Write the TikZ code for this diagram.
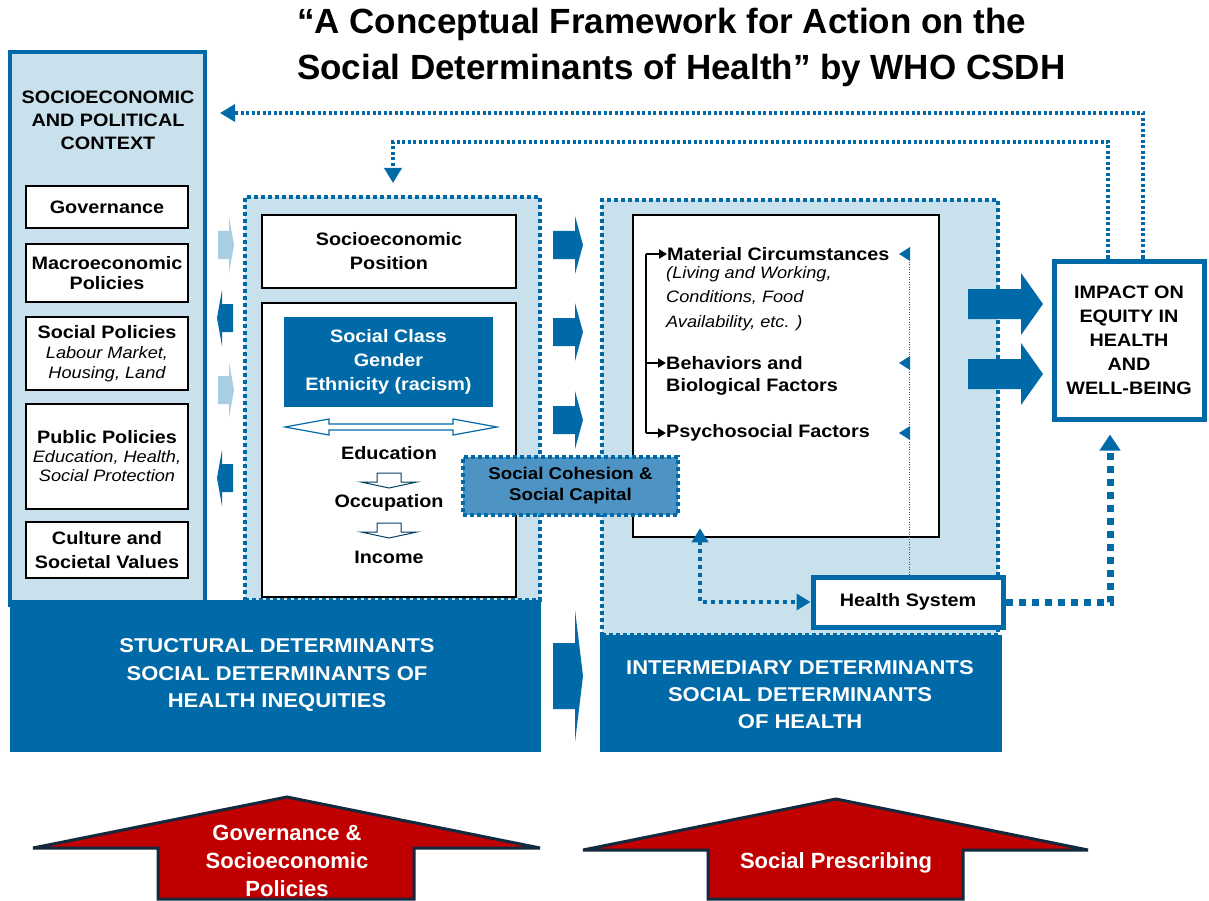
\documentclass[tikz,border=0pt]{standalone}
\usepackage{fontspec}
\setmainfont[FakeStretch=1.1]{Liberation Sans}
\newfontfamily\titlefont{Liberation Sans}
\usetikzlibrary{arrows.meta}
\definecolor{dblue}{HTML}{006AA8}
\definecolor{lblue}{HTML}{C9E1ED}
\definecolor{mblue}{HTML}{4D94C4}
\definecolor{pblue}{HTML}{A9CDE3}
\definecolor{redfill}{HTML}{C00000}
\definecolor{navy}{HTML}{13293D}
\newcommand{\setfs}[2]{\fontsize{#1}{#2}\selectfont}
\newcommand{\myital}[1]{{\fontsize{16.5}{19}\selectfont\mdseries\itshape #1}}
% right block arrow: x0, xhead, xtip, cy, body half, head half
\newcommand{\rblock}[7]{\fill[#7] (#1,{#4-#5}) -- (#2,{#4-#5}) -- (#2,{#4-#6}) -- (#3,#4) -- (#2,{#4+#6}) -- (#2,{#4+#5}) -- (#1,{#4+#5}) -- cycle;}
\begin{document}
\begin{tikzpicture}[x=1pt,y=-1pt,
  every node/.style={inner sep=0pt},
  font=\setfs{18}{20}\bfseries,
  wbox/.style={draw=black, line width=2.5pt, fill=white, align=center},
  dotbox/.style={draw=dblue, line width=4pt, dash pattern=on 4pt off 3pt, fill=lblue},
  darkbox/.style={fill=dblue, text=white, align=center},
  bluebox/.style={draw=dblue, line width=5pt, fill=white, align=center},
  thindot/.style={draw=dblue, line width=3.5pt, dash pattern=on 3pt off 2.5pt},
  meddot/.style={draw=dblue, line width=4pt, dash pattern=on 4pt off 4pt},
  bigdot/.style={draw=dblue, line width=7pt, dash pattern=on 7pt off 6pt},
  bhead/.style={-{Triangle[length=15pt,width=17pt]}},
  redarrow/.style={fill=redfill, draw=navy, line width=3pt, line join=miter},
  redtext/.style={text=white, align=center, font=\titlefont\setfs{22}{28}\bfseries}
]
\useasboundingbox (0,0) rectangle (1209,901);
\fill[white] (0,0) rectangle (1209,901);

% title
\node[anchor=base west, font=\titlefont\setfs{35}{46}\bfseries] (title1) at (297,34) {“A Conceptual Framework for Action on the};
\node[anchor=base west, font=\titlefont\setfs{35}{46}\bfseries] (title2) at (297,80) {Social Determinants of Health” by WHO CSDH};

% context column
\node[draw=dblue, line width=4pt, fill=lblue, minimum width=195pt, minimum height=553pt] (ctx) at (107.5,328.5) {};
\node[align=center, font=\setfs{18}{23}\bfseries] (ctxt) at (108,120) {SOCIOECONOMIC\\AND POLITICAL\\CONTEXT};
\node[wbox, minimum width=162pt, minimum height=42pt] (gov) at (107,207) {Governance};
\node[wbox, minimum width=162pt, minimum height=58pt] (macro) at (107,273) {Macroeconomic\\Policies};
\node[wbox, minimum width=162pt, minimum height=73pt] (socpol) at (107,353.5) {Social Policies\\\myital{Labour Market,}\\\myital{Housing, Land}};
\node[wbox, minimum width=162pt, minimum height=105pt, font=\setfs{18}{19}\bfseries] (pubpol) at (107,456.5) {Public Policies\\\myital{Education, Health,}\\\myital{Social Protection}};
\node[wbox, minimum width=162pt, minimum height=56pt, font=\setfs{18}{24}\bfseries] (cult) at (107,550) {Culture and\\Societal Values};

% small arrows between context and structural
\fill[pblue] (218,231) -- (229,231) -- (229,217) -- (234,245) -- (229,273) -- (229,259) -- (218,259) -- cycle;
\fill[pblue] (218,376) -- (229,376) -- (229,362) -- (234,390) -- (229,418) -- (229,404) -- (218,404) -- cycle;
\fill[dblue] (233,304) -- (222,304) -- (222,290) -- (217,318) -- (222,346) -- (222,332) -- (233,332) -- cycle;
\fill[dblue] (233,464) -- (222,464) -- (222,450) -- (217,478) -- (222,506) -- (222,492) -- (233,492) -- cycle;

% structural determinants
\node[dotbox, minimum width=295pt, minimum height=403pt] (struct) at (392.5,398.5) {};
\node[wbox, minimum width=254pt, minimum height=73pt, font=\setfs{18}{24}\bfseries] (sep) at (389,251.5) {Socioeconomic\\Position};
\node[wbox, minimum width=254pt, minimum height=294pt] (sbig) at (389,450) {};
\node[darkbox, minimum width=209pt, minimum height=90pt, font=\setfs{18}{24}\bfseries] (scg) at (388.5,362) {Social Class\\Gender\\Ethnicity (racism)};
\draw[fill=white, draw=dblue, line width=1.2pt, line join=miter] (285,427) -- (329,419) -- (329,424) -- (453,424) -- (453,419) -- (497,427) -- (453,435) -- (453,430) -- (329,430) -- (329,435) -- cycle;
\node (edu) at (389,453) {Education};
\node (occ) at (389,503) {Occupation};
\node (inc) at (389,557) {Income};
\draw[fill=white, draw=dblue!60!black, line width=1pt] (377,473) -- (401,473) -- (401,482) -- (417,482) -- (389,488) -- (361,482) -- (377,482) -- cycle;
\draw[fill=white, draw=dblue!60!black, line width=1pt] (377,523) -- (401,523) -- (401,532) -- (417,532) -- (389,538) -- (361,532) -- (377,532) -- cycle;

% intermediary determinants
\node[dotbox, minimum width=396pt, minimum height=435pt] (inter) at (800,417.5) {};
\node[wbox, minimum width=306pt, minimum height=322pt] (iw) at (786,376) {};
\node[anchor=west] (mc) at (667,254) {Material Circumstances};
\node[anchor=north west, align=left, font=\setfs{16.5}{24.5}\mdseries\itshape] (mcx) at (666,266) {(Living and Working,\\Conditions, Food\\Availability, etc. )};
\node[anchor=west] (bb) at (666,363) {Behaviors and};
\node[anchor=west] (bb2) at (666,387) {Biological Factors};
\node[anchor=west] (ps) at (666,433) {Psychosocial Factors};
\coordinate (brk) at (646,0);
\draw[line width=2pt] (mc.west -| brk) -- (ps.west -| brk);
\draw[line width=2pt, -{Triangle[length=8pt,width=9pt]}] (mc.west -| brk) -- (mc.west);
\draw[line width=2pt, -{Triangle[length=8pt,width=9pt]}] (bb.west -| brk) -- (bb.west);
\draw[line width=2pt, -{Triangle[length=8pt,width=9pt]}] (ps.west -| brk) -- (ps.west);

% health system
\node[bluebox, minimum width=190pt, minimum height=50pt] (hs) at (908,602) {Health System};
\coordinate (vl) at (909,254);
\draw[dblue, line width=1pt, dash pattern=on 1pt off 1.5pt] (vl) -- (vl |- hs.north);
\fill[dblue] (910,247) -- (910,261) -- (899,254) -- cycle;
\fill[dblue] (910,356) -- (910,370) -- (899,363) -- cycle;
\fill[dblue] (910,426) -- (910,440) -- (899,433) -- cycle;
\coordinate (c7) at (700,610);
\draw[meddot, {Triangle[length=14pt,width=16pt]}-{Triangle[length=14pt,width=16pt]}, shorten <=-10pt] (iw.south -| c7) |- (hs.west);

% dark bottom boxes
\node[darkbox, minimum width=531pt, minimum height=152pt] (sdark) at (275.5,676) {};
\node[text=white, align=center, font=\setfs{20}{27.5}\bfseries] (sdt) at (277,675) {STUCTURAL DETERMINANTS\\SOCIAL DETERMINANTS OF\\HEALTH INEQUITIES};
\node[darkbox, minimum width=402pt, minimum height=117pt] (idark) at (801,693.5) {};
\node[text=white, align=center, font=\setfs{20}{27}\bfseries] (idt) at (800,695) {INTERMEDIARY DETERMINANTS\\SOCIAL DETERMINANTS\\OF HEALTH};

% social cohesion
\node[draw=dblue, line width=4pt, dash pattern=on 4pt off 3pt, fill=mblue, minimum width=215pt, minimum height=58pt, align=center, font=\setfs{17}{21}\bfseries] (coh) at (570.5,486) {Social Cohesion \&\\Social Capital};

% block arrows structural -> intermediary
\rblock{553}{575}{583}{245}{14}{29}{dblue}
\rblock{553}{575}{583}{332}{14}{29}{dblue}
\rblock{553}{575}{583}{420}{14}{29}{dblue}
\rblock{553}{575}{583}{676}{33}{66}{dblue}

% impact
\node[bluebox, minimum width=150pt, minimum height=158pt, font=\setfs{18}{24}\bfseries] (impact) at (1129,340) {IMPACT ON\\EQUITY IN\\HEALTH\\AND\\WELL-BEING};
\rblock{968}{1021}{1043}{304}{15}{31}{dblue}
\rblock{968}{1021}{1043}{374}{15}{31}{dblue}

% feedback dotted arrows
\coordinate (t1) at (1143,113);
\coordinate (t2) at (1108,142);
\coordinate (t3) at (393,142);
\draw[thindot, bhead, shorten >=13pt] (impact.north -| t1) -- (t1) -- (ctx.east |- t1);
\draw[thindot, bhead, shorten >=12pt] (impact.north -| t2) -- (t2) -- (t3) -- (struct.north -| t3);
\coordinate (c8) at (1110,602);
\draw[bigdot, -{Triangle[length=16pt,width=20pt]}, shorten >=13pt] (hs.east) -- (c8) -- (impact.south -| c8);

% bottom red arrows
\draw[redarrow] (287,797) -- (540,848) -- (414,848) -- (414,899) -- (158,899) -- (158,848) -- (33,848) -- cycle;
\node[redtext] (gsp) at (287,861) {Governance \&\\Socioeconomic\\Policies};
\draw[redarrow] (836,799) -- (1088,850) -- (963,850) -- (963,899) -- (708,899) -- (708,850) -- (583,850) -- cycle;
\node[redtext] (sp) at (836,863) {Social Prescribing};
\end{tikzpicture}
\end{document}
